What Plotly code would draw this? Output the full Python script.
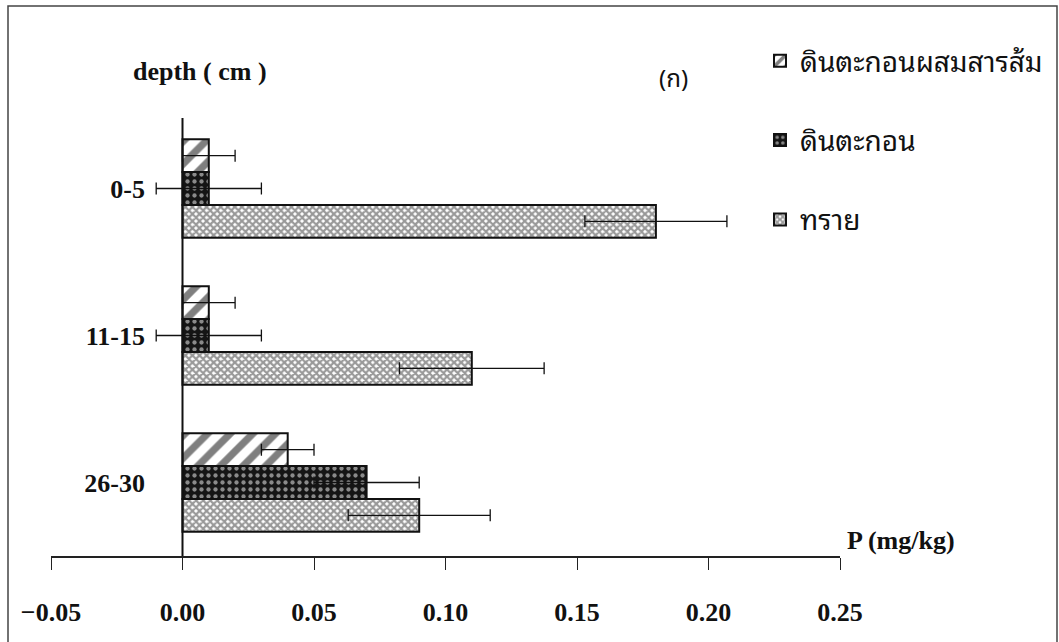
import plotly.graph_objects as go

categories = ["0-5", "11-15", "26-30"]
series_names = ["ดินตะกอนผสมสารส้ม", "ดินตะกอน", "ทราย"]
alum_values = [0.01, 0.01, 0.04]
alum_err = [0.01, 0.01, 0.01]
sediment_values = [0.01, 0.01, 0.07]
sediment_err = [0.02, 0.02, 0.02]
sand_values = [0.18, 0.11, 0.09]
sand_err = [0.027, 0.0275, 0.027]
x_ticks = [-0.05, 0.00, 0.05, 0.10, 0.15, 0.20, 0.25]

W, H = 1059, 642
ML, MR, MT, MB = 51, 219, 115, 86
PW, PH = W - ML - MR, H - MT - MB

def px_x(px):
    return (px - ML) / PW

def px_y(py):
    return (H - MB - py) / PH

SERIF = "Liberation Serif, Times New Roman, serif"
THAI = "Noto Sans Thai Looped, Noto Serif Thai, Kinnari, Norasi, Laksaman, Loma, Garuda, Noto Sans Thai, sans-serif"

patterns = [
    dict(shape="/", fgcolor="#000000", bgcolor="white", size=16, solidity=0.45),
    dict(shape=".", fgcolor="white", bgcolor="#151515", size=7, solidity=0.3),
    dict(shape="x", fgcolor="#333333", bgcolor="white", size=5, solidity=0.7),
]
vals = [alum_values, sediment_values, sand_values]
errs = [alum_err, sediment_err, sand_err]

fig = go.Figure()
for name, v, e, pat in zip(series_names, vals, errs, patterns):
    fig.add_trace(go.Bar(
        y=categories, x=v, orientation="h", name=name,
        legendgroup=name,
        marker=dict(color="white", pattern=pat,
                    line=dict(color="#111111", width=2)),
        error_x=dict(type="data", array=e, symmetric=True,
                     color="#111111", thickness=1.3, width=6),
    ))

fig.update_layout(
    width=W, height=H,
    margin=dict(l=ML, r=MR, t=MT, b=MB, autoexpand=False),
    paper_bgcolor="white", plot_bgcolor="white",
    barmode="group", bargap=0.33, bargroupgap=0,
    font=dict(family=SERIF, color="#111111"),
    legend=dict(
        x=px_x(760), y=px_y(36), xanchor="left", yanchor="top",
        font=dict(family=THAI, size=28, color="#111111"),
        tracegroupgap=40, bgcolor="rgba(0,0,0,0)",
    ),
    xaxis=dict(
        range=[-0.05, 0.25], tickvals=x_ticks, tickformat=".2f",
        showline=True, linecolor="#222222", linewidth=1.5,
        ticks="outside", ticklen=12, tickwidth=1.3, tickcolor="#222222",
        ticklabelstandoff=20,
        tickfont=dict(family=SERIF, size=26, color="#111111", weight="bold"),
        showgrid=False, zeroline=False,
    ),
    yaxis=dict(
        autorange="reversed", anchor="free", position=px_x(183),
        showline=False, ticks="", showgrid=False, zeroline=False,
        ticklabelstandoff=38,
        tickfont=dict(family=SERIF, size=26, color="#111111", weight="bold"),
    ),
    annotations=[
        dict(text="<b>depth ( cm )</b>", x=px_x(200), y=px_y(72), xref="paper", yref="paper",
             xanchor="center", yanchor="middle",
             showarrow=False, font=dict(family=SERIF, size=26, color="#111111")),
        dict(text="(ก)", x=px_x(673), y=px_y(76), xref="paper", yref="paper",
             xanchor="center", yanchor="middle",
             showarrow=False, font=dict(family=THAI, size=24, color="#111111")),
        dict(text="<b>P (mg/kg)</b>", x=px_x(901), y=px_y(540), xref="paper", yref="paper",
             xanchor="center", yanchor="middle",
             showarrow=False, font=dict(family=SERIF, size=26, color="#111111")),
    ],
    shapes=[
        dict(type="rect", xref="paper", yref="paper",
             x0=px_x(8), x1=px_x(1057), y0=px_y(650), y1=px_y(6),
             line=dict(color="#444444", width=1.5), fillcolor="rgba(0,0,0,0)", layer="below"),
        dict(type="line", xref="x", yref="paper", x0=0, x1=0, y0=0, y1=px_y(118),
             line=dict(color="#111111", width=2), layer="above"),
    ],
)

fig.write_html("out.html")
